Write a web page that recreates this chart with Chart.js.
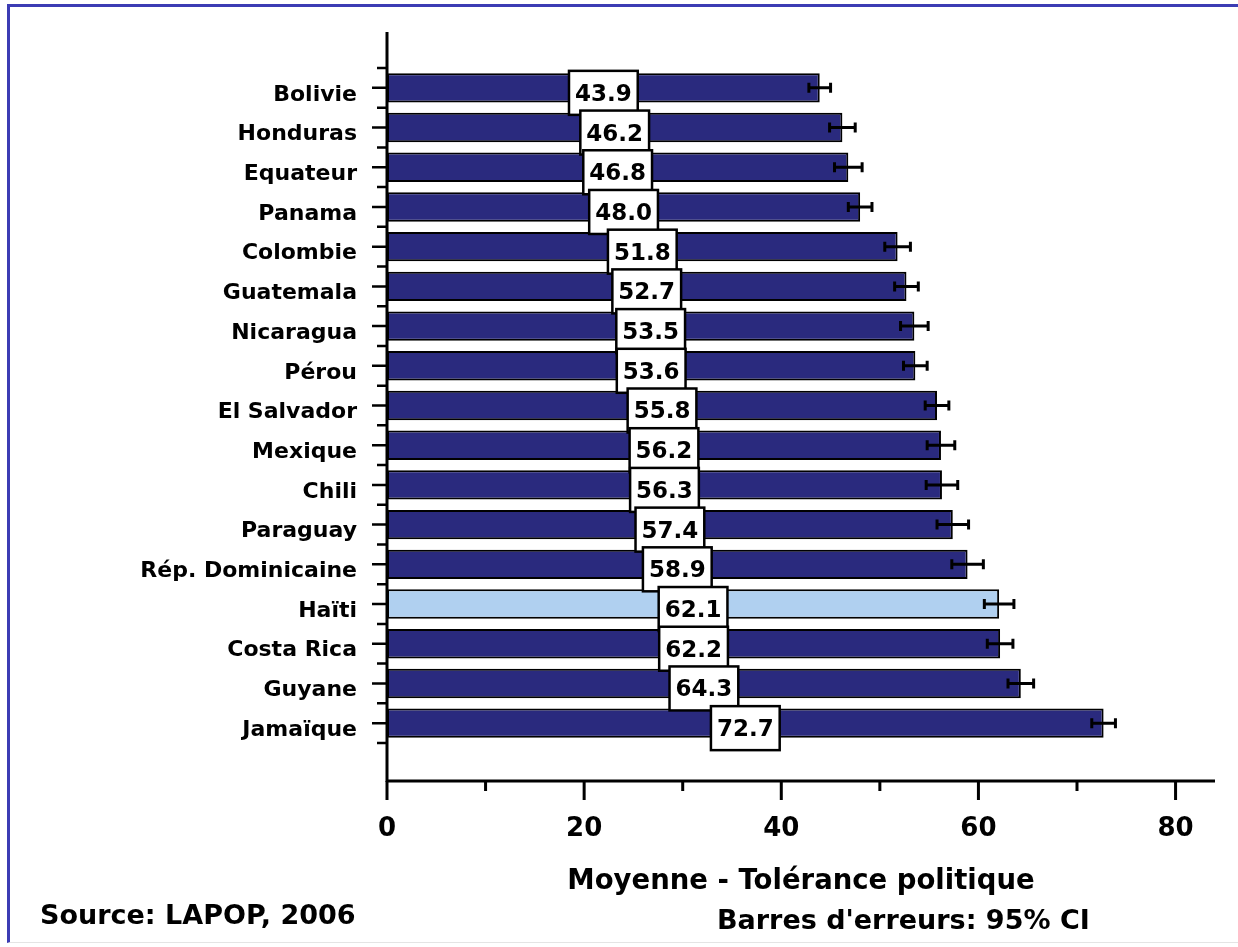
<!DOCTYPE html>
<html>
<head>
<meta charset="utf-8">
<script src="https://cdn.jsdelivr.net/npm/chart.js@4.4.1/dist/chart.umd.min.js"></script>
<style>
html, body { margin: 0; padding: 0; background: #fff; }
#wrap { position: relative; width: 1238px; height: 947px; overflow: hidden; }
#frame { position: absolute; left: 7px; top: 4px; width: 1240px; height: 935px;
         border-left: 3px solid #3c3cb4; border-top: 3px solid #3c3cb4; border-bottom: 1px solid #e4e4e4; }
canvas { position: absolute; left: 0; top: 0; }
.note { position: absolute; font: bold 27px "DejaVu Sans"; line-height: 30px; color: #000; white-space: nowrap; }
</style>
</head>
<body>
<div id="wrap">
    <div id="frame"></div>
    <canvas id="chart" width="1238" height="947"></canvas>
    <div class="note" style="left:40px; top:900px">Source: LAPOP, 2006</div>
    <div class="note" style="left:717px; top:905px">Barres d'erreurs: 95% CI</div>
</div>

<script>

// ---------------- DATA ----------------

const countries = [
    "Bolivie", "Honduras", "Equateur", "Panama", "Colombie", "Guatemala",
    "Nicaragua", "Pérou", "El Salvador", "Mexique", "Chili", "Paraguay",
    "Rép. Dominicaine", "Haïti", "Costa Rica", "Guyane", "Jamaïque"
];

const tolerance = [
    43.9, 46.2, 46.8, 48.0, 51.8, 52.7,
    53.5, 53.6, 55.8, 56.2, 56.3, 57.4,
    58.9, 62.1, 62.2, 64.3, 72.7
];

// half width of the 95% CI
const ciHalf = [
    1.1, 1.3, 1.4, 1.2, 1.3, 1.2,
    1.4, 1.2, 1.2, 1.4, 1.6, 1.6,
    1.6, 1.5, 1.3, 1.3, 1.2
];

const xTicks = [0, 20, 40, 60, 80];
const xMinorTicks = [10, 30, 50, 70];

const highlight = "Haïti";

// ---------------- STYLE ----------------

const navy = "#2a2a7e";
const lightBlue = "#b0d0f0";
const font = "DejaVu Sans";

const barColors = countries.map(c => c === highlight ? lightBlue : navy);

// ---------------- PLUGIN: axes, error bars, value boxes ----------------

const decorations = {
    id: "decorations",
    afterDatasetsDraw(chart) {
        const ctx = chart.ctx;
        const x = chart.scales.x;
        const y = chart.scales.y;
        const area = chart.chartArea;
        const axisY = area.bottom + 38;
        const step = y.getPixelForValue(1) - y.getPixelForValue(0);

        ctx.save();
        ctx.strokeStyle = "#000";
        ctx.lineCap = "butt";

        // axis lines
        ctx.lineWidth = 3;
        ctx.beginPath();
        ctx.moveTo(area.left, area.top - 36);
        ctx.lineTo(area.left, axisY + 1);
        ctx.moveTo(area.left - 1, axisY);
        ctx.lineTo(area.right, axisY);
        ctx.stroke();

        // y ticks: long at categories, short at boundaries
        ctx.lineWidth = 2.5;
        ctx.beginPath();
        countries.forEach((c, i) => {
            const py = y.getPixelForValue(i);
            ctx.moveTo(area.left - 15, py);
            ctx.lineTo(area.left, py);
            ctx.moveTo(area.left - 10, py - step / 2);
            ctx.lineTo(area.left, py - step / 2);
        });
        const lastY = y.getPixelForValue(countries.length - 1) + step / 2;
        ctx.moveTo(area.left - 10, lastY);
        ctx.lineTo(area.left, lastY);
        ctx.stroke();

        // x ticks
        ctx.lineWidth = 3;
        ctx.beginPath();
        xTicks.forEach(v => {
            const px = x.getPixelForValue(v);
            ctx.moveTo(px, axisY);
            ctx.lineTo(px, axisY + 19);
        });
        xMinorTicks.forEach(v => {
            const px = x.getPixelForValue(v);
            ctx.moveTo(px, axisY);
            ctx.lineTo(px, axisY + 10);
        });
        ctx.stroke();

        // error bars
        const meta = chart.getDatasetMeta(0);
        ctx.lineWidth = 3;
        meta.data.forEach((bar, i) => {
            const lo = x.getPixelForValue(tolerance[i] - ciHalf[i]);
            const hi = x.getPixelForValue(tolerance[i] + ciHalf[i]);
            const py = bar.y;
            ctx.beginPath();
            ctx.moveTo(lo, py);
            ctx.lineTo(hi, py);
            ctx.moveTo(lo, py - 5);
            ctx.lineTo(lo, py + 5);
            ctx.moveTo(hi, py - 5);
            ctx.lineTo(hi, py + 5);
            ctx.stroke();
        });

        // value boxes, centred at half the bar
        ctx.font = "bold 23px '" + font + "'";
        ctx.textAlign = "center";
        ctx.textBaseline = "middle";
        meta.data.forEach((bar, i) => {
            const txt = tolerance[i].toFixed(1);
            const cx = x.getPixelForValue(tolerance[i] / 2);
            const cy = bar.y;
            const w = ctx.measureText(txt).width + 12;
            const h = 44;
            ctx.fillStyle = "#fff";
            ctx.fillRect(cx - w / 2, cy + 5 - h / 2, w, h);
            ctx.lineWidth = 2.5;
            ctx.strokeRect(cx - w / 2, cy + 5 - h / 2, w, h);
            ctx.fillStyle = "#000";
            ctx.fillText(txt, cx, cy + 7);
        });

        ctx.restore();
    }
};

// ---------------- CHART ----------------

new Chart(document.getElementById("chart"), {

    type: "bar",

    data: {
        labels: countries,
        datasets: [{
            data: tolerance,
            backgroundColor: barColors,
            borderColor: "#000",
            borderWidth: 2,
            borderSkipped: false,
            barPercentage: 0.74,
            categoryPercentage: 1
        }]
    },

    options: {
        indexAxis: "y",
        responsive: false,
        animation: false,
        devicePixelRatio: 1,
        layout: {
            padding: { top: 68, right: 23, left: 0, bottom: 0 }
        },
        plugins: {
            legend: { display: false },
            tooltip: { enabled: false }
        },
        scales: {
            y: {
                grid: { display: false, drawTicks: false },
                border: { display: false },
                ticks: {
                    color: "#000",
                    autoSkip: false,
                    padding: 30,
                    labelOffset: 7,
                    font: { family: font, weight: "bold", size: 22 }
                },
                afterFit(scale) {
                    scale.width = 387;
                }
            },
            x: {
                type: "linear",
                min: 0,
                max: 84,
                // hidden grid, tick length only used to push the labels down
                grid: { display: false, drawTicks: true, tickLength: 71 },
                border: { display: false },
                afterBuildTicks(scale) {
                    scale.ticks = xTicks.map(v => ({ value: v }));
                },
                ticks: {
                    color: "#000",
                    padding: 0,
                    font: { family: font, weight: "bold", size: 26 }
                },
                title: {
                    display: true,
                    text: "Moyenne - Tolérance politique",
                    color: "#000",
                    padding: { top: 0, bottom: 49 },
                    font: { family: font, weight: "bold", size: 27.5 }
                },
                afterFit(scale) {
                    scale.height = 204;
                }
            }
        }
    },

    plugins: [decorations]
});

</script>
</body>
</html>
